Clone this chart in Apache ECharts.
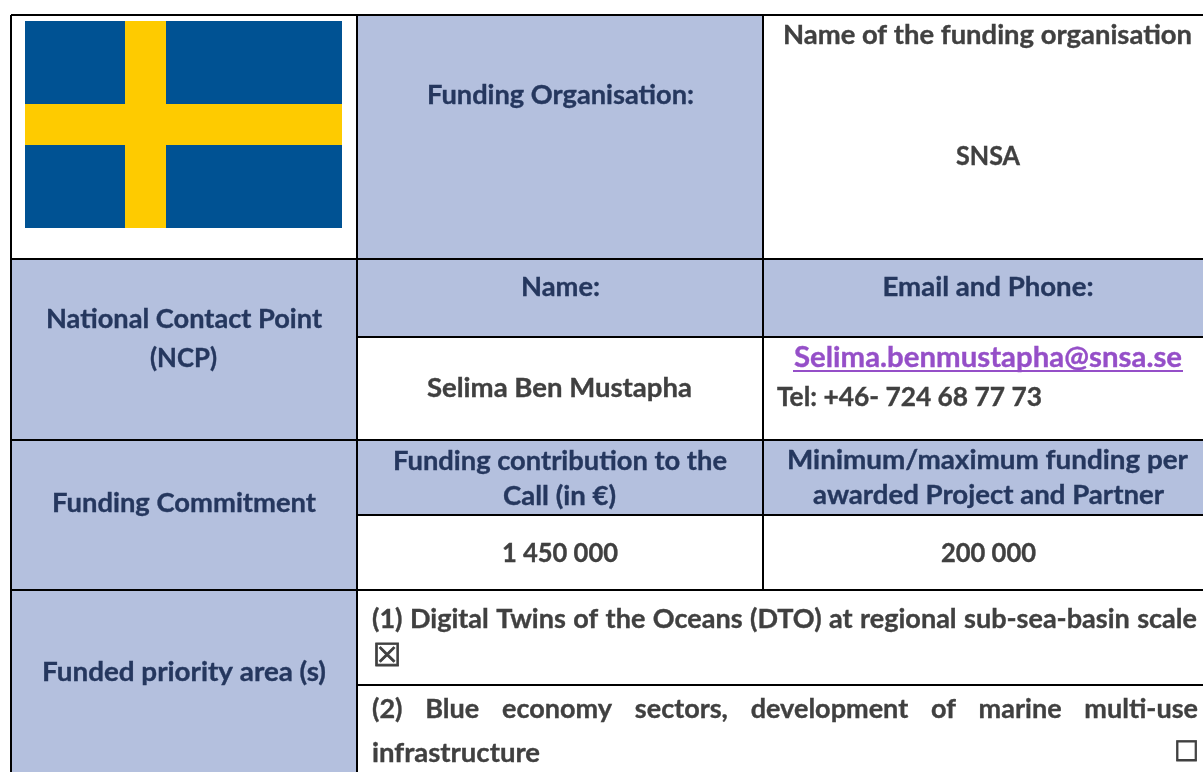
<!DOCTYPE html>
<html>
<head>
<meta charset="utf-8">
<style>html,body{margin:0;padding:0;background:#fff}#main{width:1203px;height:772px}</style>
<script src="https://cdn.jsdelivr.net/npm/echarts@6/dist/echarts.min.js"></script>
</head>
<body>
<div id="main"></div>
<script>
// table contents
var headCells = ['Funding Organisation:', 'National Contact Point', '(NCP)', 'Name:', 'Email and Phone:',
    'Funding Commitment', 'Funding contribution to the', 'Call (in €)', 'Minimum/maximum funding per', 'awarded Project and Partner', 'Funded priority area (s)'];
var bodyCells = ['Name of the funding organisation', 'SNSA', 'Selima Ben Mustapha', '1 450 000', '200 000'];
var contactEmail = 'Selima.benmustapha@snsa.se';
var contactPhone = 'Tel: +46- 724 68 77 73';
var priorityLines = ['(1) Digital Twins of the Oceans (DTO) at regional sub-sea-basin scale', '(2) Blue economy sectors, development of marine multi-use', 'infrastructure'];
var checkMarks = ['☒', '☐'];

var FONT = 'bold 26px Lato';
var MID = 8.3; // baseline to middle of the em box
var WORD_STRETCH = 1.04; // Lato runs a little narrower than the reference face
var NAVY = '#25375e', GREY = '#404040', PURPLE = '#954fc8', CELL = '#b4c0de';

// table grid, in page pixels
var X0 = 11, X1 = 357, X2 = 763, XE = 1203;
var Y0 = 15, Y1 = 259, Y2 = 337, Y3 = 440, Y4 = 515, Y5 = 590, Y6 = 685, YE = 772;

var fills = [
    [X1, Y0, X2, Y1], [X0, Y1, X1, YE], [X1, Y1, XE, Y2], [X1, Y3, XE, Y4]
];
var flagBlue = [[25, 21, 342, 228]];
var flagYellow = [[125, 21, 166, 228], [25, 104, 342, 145]];
var borders = [
    [X0, Y0, XE, Y0], [X0, Y1, XE, Y1], [X1, Y2, XE, Y2], [X0, Y3, XE, Y3], [X1, Y4, XE, Y4], [X0, Y5, XE, Y5], [X1, Y6, XE, Y6],
    [X0, Y0, X0, YE], [X1, Y0, X1, YE], [X2, Y0, X2, Y5]
];
var emailLine = [[793, 371, 1183, 371]];

var ctx = document.createElement('canvas').getContext('2d');

function textWidth(text, font) {
    ctx.font = font;
    return ctx.measureText(text).width;
}

// x, baseline and the width the line takes in the reference
function line(text, x, base, width, color, align, font) {
    var f = font || FONT;
    return { value: [x, base - MID * (font ? 1.1 : 1)], text: text, color: color, align: align || 'center', font: f, sx: width / textWidth(text, f), sw: 0.35 };
}

// word by word so the two justified lines reach both cell edges
function justify(text, left, right, base) {
    var words = text.split(' ');
    var widths = words.map(function (w) { return textWidth(w, FONT) * WORD_STRETCH; });
    var gap = (right - left - widths.reduce(function (a, b) { return a + b; }, 0)) / (words.length - 1);
    var x = left;
    return words.map(function (w, i) {
        var item = line(w, x, base, widths[i], GREY, 'left');
        x += widths[i] + gap;
        return item;
    });
}

var texts = [
    line(headCells[0], 560.5, 104, 267, NAVY),
    line(headCells[1], 184, 328, 276, NAVY),
    line(headCells[2], 183.5, 367, 67, NAVY),
    line(headCells[3], 560.5, 296, 79, NAVY),
    line(headCells[4], 988, 296, 211, NAVY),
    line(headCells[5], 184, 512, 264, NAVY),
    line(headCells[6], 560, 470, 334, NAVY),
    line(headCells[7], 559.5, 505, 113, NAVY),
    line(headCells[8], 987.5, 469, 401, NAVY),
    line(headCells[9], 988.5, 504, 351, NAVY),
    line(headCells[10], 184, 681, 284, NAVY),
    line(bodyCells[0], 987.5, 44, 409, GREY),
    line(bodyCells[1], 988, 165, 64, GREY),
    line(bodyCells[2], 559.5, 397, 265, GREY),
    line(bodyCells[3], 560, 562, 116, GREY),
    line(bodyCells[4], 988.5, 562, 95, GREY),
    line(contactEmail, 988, 367, 388, PURPLE, 'center', 'bold 28.5px Lato'),
    line(contactPhone, 777, 406, 265, GREY, 'left'),
    line(priorityLines[2], 372, 762, 168, GREY, 'left')
].concat(justify(priorityLines[0], 372, 1197, 628), justify(priorityLines[1], 372, 1198, 718));

var marks = [
    { value: [387, 658], text: checkMarks[0], color: GREY, align: 'center', font: '32px "DejaVu Sans"', sx: 1, sw: 0.8 },
    { value: [1186.5, 753.5], text: checkMarks[1], color: GREY, align: 'center', font: '28px "DejaVu Sans"', sx: 1, sw: 0.8 }
];
var allTexts = texts.concat(marks);

function rectSeries(data, color) {
    return {
        type: 'custom',
        coordinateSystem: 'cartesian2d',
        silent: true,
        data: data,
        renderItem: function (params, api) {
            var a = api.coord([api.value(0), api.value(1)]);
            var b = api.coord([api.value(2), api.value(3)]);
            return { type: 'rect', shape: { x: a[0], y: a[1], width: b[0] - a[0], height: b[1] - a[1] }, style: { fill: color } };
        }
    };
}

function lineSeries(data, color, width) {
    return {
        type: 'custom',
        coordinateSystem: 'cartesian2d',
        silent: true,
        data: data,
        renderItem: function (params, api) {
            var a = api.coord([api.value(0), api.value(1)]);
            var b = api.coord([api.value(2), api.value(3)]);
            return { type: 'line', shape: { x1: a[0], y1: a[1], x2: b[0], y2: b[1] }, style: { stroke: color, lineWidth: width } };
        }
    };
}

var myChart = echarts.init(document.getElementById('main'), null, { renderer: 'canvas' });

var option = {
    animation: false,
    backgroundColor: '#fff',
    grid: { left: 0, right: 0, top: 0, bottom: 0 },
    xAxis: { type: 'value', min: 0, max: 1203, show: false },
    yAxis: { type: 'value', min: 0, max: 772, inverse: true, show: false },
    series: [
        rectSeries(fills, CELL),
        rectSeries(flagBlue, '#005293'),
        rectSeries(flagYellow, '#fecb00'),
        lineSeries(borders, '#000', 2),
        lineSeries(emailLine, PURPLE, 2),
        {
            type: 'custom',
            coordinateSystem: 'cartesian2d',
            silent: true,
            data: allTexts,
            renderItem: function (params, api) {
                var t = allTexts[params.dataIndex];
                var p = api.coord([api.value(0), api.value(1)]);
                return {
                    type: 'text',
                    x: p[0],
                    y: p[1],
                    scaleX: t.sx,
                    style: {
                        text: t.text,
                        font: t.font,
                        fill: t.color,
                        stroke: t.color,
                        lineWidth: t.sw,
                        align: t.align,
                        verticalAlign: 'middle'
                    }
                };
            }
        }
    ]
};
myChart.setOption(option);
</script>
</body>
</html>
